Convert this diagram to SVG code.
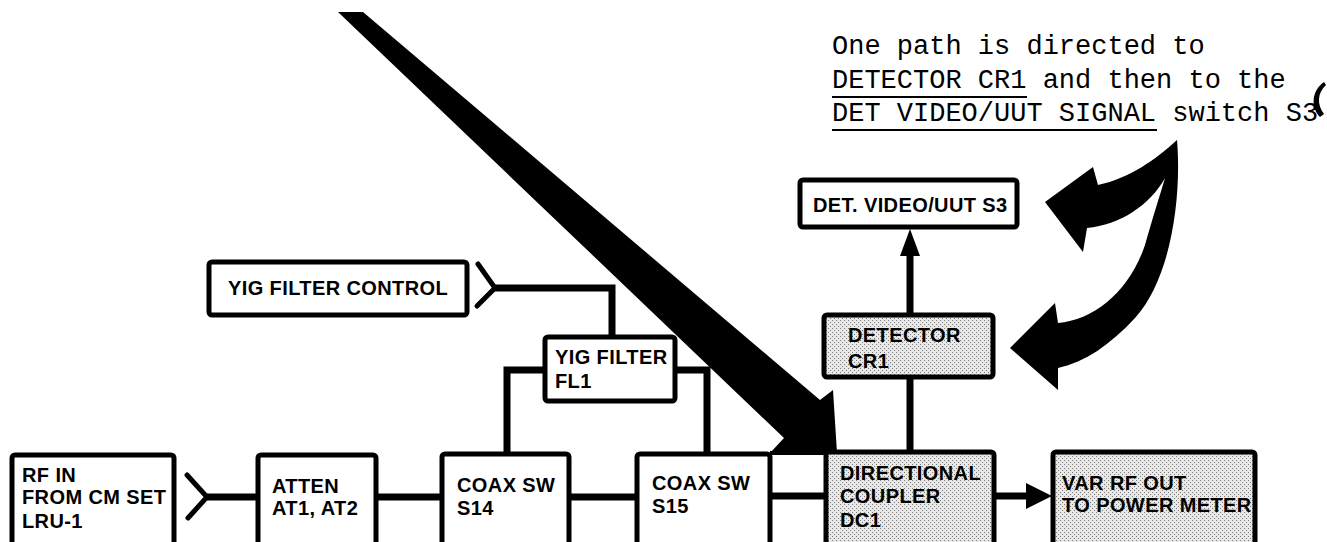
<svg xmlns="http://www.w3.org/2000/svg" width="1327" height="542" viewBox="0 0 1327 542">
<defs>
<pattern id="stip" width="4" height="4" patternUnits="userSpaceOnUse">
<rect width="4" height="4" fill="#e8e8e8"/>
<rect x="0" y="0" width="1" height="1" fill="#7a7a7a"/>
<rect x="2" y="2" width="1" height="1" fill="#7a7a7a"/>
</pattern>
</defs>
<style>
.box{fill:#fff;stroke:#000;stroke-width:5}
.shade{fill:url(#stip);stroke:#000;stroke-width:5}
.lbl{font-family:"Liberation Sans",Arial,sans-serif;font-weight:bold;font-size:20px;letter-spacing:0.4px;fill:#000}
.note{font-family:"Liberation Mono","Courier New",monospace;font-size:27px;fill:#000}
.ln{fill:none;stroke:#000;stroke-width:7}
.fork{fill:none;stroke:#000;stroke-width:5;stroke-linecap:round;stroke-linejoin:miter}
.ul{stroke:#000;stroke-width:2}
</style>
<rect width="1327" height="542" fill="#fff"/>

<g id="connectors">
<polyline class="fork" points="187,475 207,497 188,518"/>
<line class="ln" x1="207" y1="497" x2="258" y2="497"/>
<line class="ln" x1="376" y1="497" x2="442" y2="497"/>
<line class="ln" x1="569" y1="497" x2="637" y2="497"/>
<line class="ln" x1="770" y1="496" x2="826" y2="496"/>
<line class="ln" x1="994" y1="496" x2="1028" y2="496"/>
<polygon points="1026,483 1026,509 1052,496" fill="#000"/>
<polyline class="fork" points="478,264 495,288 477,306"/>
<path class="ln" d="M495,288 H612 V337" stroke-width="6"/>
<path class="ln" d="M545,370 H507 V454"/>
<path class="ln" d="M675,370 H707 V454"/>
<line class="ln" x1="910" y1="377" x2="910" y2="452"/>
<line class="ln" x1="910" y1="315" x2="910" y2="252"/>
<polygon points="910,229 900,256 920,256" fill="#000"/>
<line x1="770" y1="453" x2="826" y2="453" stroke="#000" stroke-width="4"/>
<polygon id="big-arrow" points="338,12 363,12 820,400 833,390 837,453 770,453 784,438" fill="#000"/>
<path id="curved-arrows" fill="#000" d="M1177,140 C1182,200 1170,280 1135,318 C1110,345 1085,362 1058,368 L1058,390 L1010,348 L1055,303 L1058,323 C1095,320 1130,290 1145,245 C1152,220 1160,195 1165,178 C1150,205 1120,225 1087,228 L1083,252 L1045,202 L1093,167 L1098,185 C1130,178 1155,160 1177,140 Z"/>
</g>

<g id="rf-in">
<rect class="box" x="12" y="455" width="162" height="100" rx="3"/>
<text class="lbl" x="22" y="482">RF IN</text>
<text class="lbl" x="22" y="504">FROM CM SET</text>
<text class="lbl" x="22" y="528">LRU-1</text>
</g>
<g id="atten">
<rect class="box" x="258" y="455" width="118" height="100" rx="3"/>
<text class="lbl" x="272" y="493">ATTEN</text>
<text class="lbl" x="272" y="515">AT1, AT2</text>
</g>
<g id="coax-s14">
<rect class="box" x="442" y="454" width="127" height="100" rx="3"/>
<text class="lbl" x="457" y="492">COAX SW</text>
<text class="lbl" x="457" y="515">S14</text>
</g>
<g id="coax-s15">
<rect class="box" x="637" y="454" width="133" height="100" rx="3"/>
<text class="lbl" x="652" y="490">COAX SW</text>
<text class="lbl" x="652" y="513">S15</text>
</g>
<g id="dc1">
<rect class="shade" x="826" y="452" width="168" height="100" rx="3"/>
<text class="lbl" x="840" y="480">DIRECTIONAL</text>
<text class="lbl" x="840" y="503">COUPLER</text>
<text class="lbl" x="840" y="527">DC1</text>
</g>
<g id="var-rf-out">
<rect class="shade" x="1053" y="452" width="202" height="100" rx="3"/>
<text class="lbl" x="1062" y="490">VAR RF OUT</text>
<text class="lbl" x="1062" y="512">TO POWER METER</text>
</g>
<g id="yig-control">
<rect class="box" x="209" y="262" width="258" height="53" rx="3"/>
<text class="lbl" x="228" y="295">YIG FILTER CONTROL</text>
</g>
<g id="yig-filter">
<rect class="box" x="545" y="337" width="130" height="64" rx="3"/>
<text class="lbl" x="555" y="364">YIG FILTER</text>
<text class="lbl" x="555" y="388">FL1</text>
</g>
<g id="det-video">
<rect class="box" x="800" y="180" width="217" height="47" rx="3"/>
<text class="lbl" x="813" y="212">DET. VIDEO/UUT S3</text>
</g>
<g id="detector">
<rect class="shade" x="824" y="315" width="169" height="62" rx="3"/>
<text class="lbl" x="848" y="342">DETECTOR</text>
<text class="lbl" x="848" y="368">CR1</text>
</g>

<g id="note">
<text class="note" x="832" y="54">One path is directed to</text>
<text class="note" x="832" y="88">DETECTOR CR1 and then to the</text>
<text class="note" x="832" y="121">DET VIDEO/UUT SIGNAL switch S3</text>
<line class="ul" x1="832" y1="97" x2="1027" y2="97"/>
<line class="ul" x1="832" y1="130" x2="1157" y2="130"/>
<path fill="#000" d="M1324,82 C1311,91 1311,108 1320,117 L1324,114 C1317,105 1317,93 1326,85 Z"/>
</g>
</svg>
